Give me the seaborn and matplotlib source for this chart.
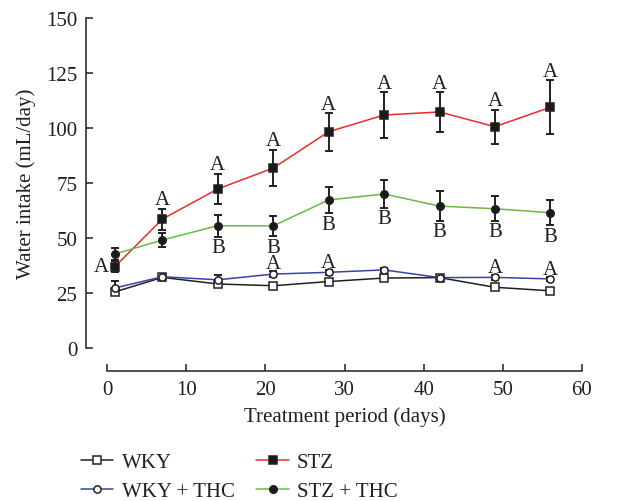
import numpy as np
import pandas as pd
import matplotlib
matplotlib.use('Agg')
import matplotlib.pyplot as plt
import seaborn as sns

days = [1, 7, 14, 21, 28, 35, 42, 49, 56]

wky = [25.5, 32.1, 29.1, 28.3, 30.2, 31.8, 32.0, 27.6, 26.0]
wky_err = [1.0, 1.0, 1.0, 1.0, 1.0, 1.0, 1.0, 1.0, 1.0]
wky_thc = [27.3, 32.4, 31.0, 33.6, 34.4, 35.5, 32.0, 32.1, 31.4]
wky_thc_err = [3.0, 1.0, 2.0, 1.5, 1.0, 1.0, 1.0, 1.0, 1.0]
stz = [37.0, 58.6, 72.3, 81.8, 98.3, 105.9, 107.3, 100.6, 109.4]
stz_err = [2.5, 4.8, 7.0, 8.3, 8.6, 10.4, 9.0, 7.7, 12.3]
stz_thc = [42.7, 49.1, 55.6, 55.5, 67.3, 70.0, 64.5, 63.3, 61.5]
stz_thc_err = [2.8, 3.0, 5.0, 4.7, 6.0, 6.2, 6.8, 5.6, 5.7]

# significance letters
stz_letters = ['A', 'A', 'A', 'A', 'A', 'A', 'A', 'A', 'A']
stz_thc_letters = ['', '', 'B', 'B', 'B', 'B', 'B', 'B', 'B']
wky_thc_letters = ['', '', '', 'A', 'A', '', '', 'A', 'A']

sns.set_style('ticks')
plt.rcParams['font.family'] = ['Liberation Serif', 'DejaVu Serif']
txt = '#231f20'

fig = plt.figure(figsize=(6.37, 5.02), dpi=100)
ax = fig.add_axes([107 / 637, 1 - 349 / 502, 475 / 637, 330 / 502])

series = [
    ('WKY', wky, wky_err, '#231f20', 's', 'white', 5.8),
    ('WKY + THC', wky_thc, wky_thc_err, '#3545a5', 'o', 'white', 5.2),
    ('STZ', stz, stz_err, '#ee2b2b', 's', '#1a1a1a', 6.4),
    ('STZ + THC', stz_thc, stz_thc_err, '#66bb44', 'o', '#1a1a1a', 5.4),
]

for name, vals, err, col, mk, fc, ms in series:
    ax.errorbar(days, vals, yerr=err, fmt='none', ecolor='#231f20',
                elinewidth=1.4, capsize=3.2, capthick=1.4, zorder=3)
    df = pd.DataFrame({'day': days, 'val': vals})
    sns.lineplot(data=df, x='day', y='val', ax=ax, color=col, lw=1.1,
                 marker=mk, markersize=ms, markerfacecolor=fc,
                 markeredgecolor='#231f20', markeredgewidth=1.1,
                 label=name, zorder=4)

fs = 15
for i, d in enumerate(days):
    if i == 0:
        ax.annotate(stz_letters[i], (d, stz[i]), xytext=(-4, 0),
                    textcoords='offset points', ha='right', va='center',
                    fontsize=fs, color=txt)
    else:
        ax.annotate(stz_letters[i], (d, stz[i] + stz_err[i]), xytext=(0, -0.5),
                    textcoords='offset points', ha='center', va='bottom',
                    fontsize=fs, color=txt)
    if stz_thc_letters[i]:
        ax.annotate(stz_thc_letters[i], (d, stz_thc[i] - stz_thc_err[i]),
                    xytext=(0, -1), textcoords='offset points', ha='center',
                    va='top', fontsize=fs, color=txt)
    if wky_thc_letters[i]:
        ax.annotate(wky_thc_letters[i], (d, wky_thc[i] + wky_thc_err[i]),
                    xytext=(0, -1.5), textcoords='offset points', ha='center',
                    va='bottom', fontsize=fs, color=txt)

ax.set_xlim(0, 60)
ax.set_ylim(0, 150)
ax.set_xticks(range(0, 61, 10))
ax.set_yticks(range(0, 151, 25))
sns.despine(ax=ax)
ax.spines['left'].set_position(('outward', 15))
ax.spines['bottom'].set_position(('outward', 16.5))
for s in ['left', 'bottom']:
    ax.spines[s].set_color('#231f20')
    ax.spines[s].set_linewidth(1.1)
ax.tick_params(direction='in', length=5, width=1.1, color='#231f20',
               labelsize=fs, labelcolor=txt, pad=6.5)
ax.set_xlabel('Treatment period (days)', fontsize=fs, color=txt, labelpad=5)
ax.set_ylabel('Water intake (mL/day)', fontsize=fs, color=txt, labelpad=7)

handles, labels = ax.get_legend_handles_labels()
ax.get_legend().remove()
fig.legend(handles, labels, ncol=2, frameon=False, loc='lower left',
           bbox_to_anchor=(81 / 637, 0.0), borderaxespad=0.0, borderpad=0.0,
           fontsize=fs, handlelength=1.55, handletextpad=0.4,
           columnspacing=1.05, labelspacing=0.45, labelcolor=txt)

fig.savefig('out.png', dpi=100)
